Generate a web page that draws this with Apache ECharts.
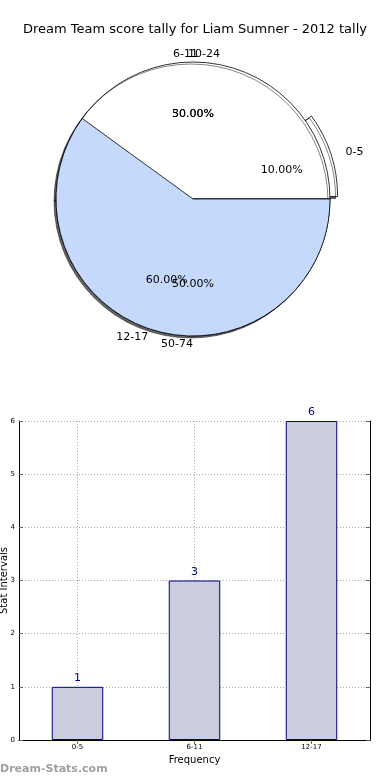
<!DOCTYPE html>
<html><head><meta charset="utf-8">
<script src="https://cdn.jsdelivr.net/npm/echarts@6/dist/echarts.min.js"></script>
<style>html,body{margin:0;padding:0;background:#fff}#c{width:390px;height:780px}</style>
</head><body><div id="c"></div>
<script>
const titleText = 'Dream Team score tally for Liam Sumner - 2012 tally';
const pieACats = ['0-5', '6-11', '12-17'];
const pieAVals = [1, 3, 6];
const pieBCats = ['10-24', '50-74'];
const pieBVals = [50, 50];
const barCats = ['0-5', '6-11', '12-17'];
const barVals = [1, 3, 6];
const yMin = 0, yMax = 6, yStep = 1;
const xName = 'Frequency', yName = 'Stat Intervals', watermark = 'Dream-Stats.com';

const FONT = 'DejaVu Sans';
const WHITE = '#ffffff', BLUE = '#c5d9fd';
const CX = 193, CY = 199, R = 137;
const chart = echarts.init(document.getElementById('c'), null, {renderer: 'canvas'});

const shadow = {shadowColor: 'rgba(0,0,0,0.6)', shadowBlur: 0, shadowOffsetX: -2, shadowOffsetY: 2};
const edge = {borderColor: '#000', borderWidth: 0.8};
const hidden = {color: 'rgba(0,0,0,0)', borderWidth: 0, shadowColor: 'rgba(0,0,0,0)'};
const pieAColors = [WHITE, WHITE, BLUE];
const pieBColors = [WHITE, BLUE];
const explodeA = [true, false, false];
const lowerA = [true, false, false];   // drawn beneath pie B
const upperA = [false, false, true];   // drawn above pie B

const alignMap = {'0-5': ['left', 7], '6-11': ['right', 5], '10-24': ['left', -5], '50-74': ['right', 0]};
function nameLayout(cats) {
  return function (p) {
    const a = alignMap[cats[p.dataIndex]];
    return a ? {align: a[0], dx: a[1], hideOverlap: false} : {hideOverlap: false};
  };
}
function base(extra) {
  return Object.assign({
    type: 'pie', center: [CX, CY], radius: [0, R], startAngle: 0, clockwise: false,
    avoidLabelOverlap: false, selectedMode: 'multiple', selectedOffset: 8,
    emphasis: {disabled: true}, silent: true, animation: false,
    labelLayout: {hideOverlap: false},
    labelLine: {show: false, length: 8, length2: 0}
  }, extra);
}
const nameLabel = {show: true, position: 'outside', formatter: '{b}', fontFamily: FONT, fontSize: 11, color: '#000', distanceToLabelLine: 0};
const pctLabel = {show: true, position: 'inner', formatter: p => p.percent.toFixed(2) + '%', fontFamily: FONT, fontSize: 11, color: '#000'};

const option = {
  animation: false,
  backgroundColor: '#fff',
  title: [
    {text: titleText, left: 'center', top: 23, padding: 0, textStyle: {fontFamily: FONT, fontSize: 13, fontWeight: 'normal', color: '#000'}},
    {text: watermark, left: 0, top: 764, padding: 0, textStyle: {fontFamily: FONT, fontSize: 11, fontWeight: 'bold', color: '#a0a0a0'}}
  ],
  grid: {left: 19, right: 20, top: 421, bottom: 40, containLabel: false, outerBoundsMode: 'none'},
  xAxis: [
    {type: 'category', data: barCats, position: 'bottom',
     axisLine: {lineStyle: {color: '#000', width: 1}},
     axisTick: {show: true, alignWithLabel: true, inside: true, length: 4, lineStyle: {color: '#666'}},
     axisLabel: {fontFamily: FONT, fontSize: 7, color: '#000', margin: 4},
     splitLine: {show: true, alignWithLabel: true, lineStyle: {color: '#aaa', type: [1, 2]}},
     name: xName, nameLocation: 'middle', nameGap: 15, nameMoveOverlap: false,
     nameTextStyle: {fontFamily: FONT, fontSize: 10, color: '#000'}},
    {type: 'category', data: barCats, position: 'top',
     axisLine: {lineStyle: {color: '#000', width: 1}},
     axisTick: {show: true, alignWithLabel: true, inside: true, length: 4, lineStyle: {color: '#666'}},
     axisLabel: {show: false}, splitLine: {show: false}}
  ],
  yAxis: [
    {type: 'value', min: yMin, max: yMax, interval: yStep,
     axisLine: {show: true, lineStyle: {color: '#000', width: 1}},
     axisTick: {show: true, inside: true, length: 4, lineStyle: {color: '#666'}},
     axisLabel: {fontFamily: FONT, fontSize: 7, color: '#000', margin: 4},
     splitLine: {show: true, lineStyle: {color: '#aaa', type: [1, 2]}},
     name: yName, nameLocation: 'middle', nameGap: 10, nameRotate: 90, nameMoveOverlap: false,
     nameTextStyle: {fontFamily: FONT, fontSize: 10, color: '#000'}},
    {type: 'value', min: yMin, max: yMax, interval: yStep, position: 'right',
     axisLine: {show: true, lineStyle: {color: '#000', width: 1}},
     axisTick: {show: true, inside: true, length: 4, lineStyle: {color: '#666'}},
     axisLabel: {show: false}, splitLine: {show: false}}
  ],
  series: [
    base({z: 1, label: nameLabel, labelLayout: nameLayout(pieACats),
      data: pieACats.map((n, i) => ({name: n, value: pieAVals[i], selected: explodeA[i],
        itemStyle: lowerA[i] ? Object.assign({color: pieAColors[i]}, edge, shadow) : hidden}))}),
    base({z: 2, label: nameLabel, labelLayout: nameLayout(pieBCats),
      data: pieBCats.map((n, i) => ({name: n, value: pieBVals[i],
        itemStyle: Object.assign({color: pieBColors[i]}, edge, shadow)}))}),
    base({z: 3, label: {show: false},
      data: pieACats.map((n, i) => ({name: n, value: pieAVals[i], selected: explodeA[i],
        itemStyle: upperA[i] ? Object.assign({color: pieAColors[i]}, edge) : hidden}))}),
    base({z: 4, radius: [R * 0.2, R], label: pctLabel,
      data: pieBCats.map((n, i) => ({name: n, value: pieBVals[i], itemStyle: hidden}))}),
    base({z: 5, radius: [R * 0.2, R], label: pctLabel,
      data: pieACats.map((n, i) => ({name: n, value: pieAVals[i], selected: explodeA[i], itemStyle: hidden}))}),
    {type: 'bar', xAxisIndex: 0, yAxisIndex: 0, data: barVals, barWidth: '44%', silent: true,
     itemStyle: {color: '#ccccdf', borderColor: '#000080', borderWidth: 1},
     label: {show: true, position: 'top', distance: 3, fontFamily: FONT, fontSize: 11, color: '#000080'}}
  ]
};
chart.setOption(option);
</script></body></html>
